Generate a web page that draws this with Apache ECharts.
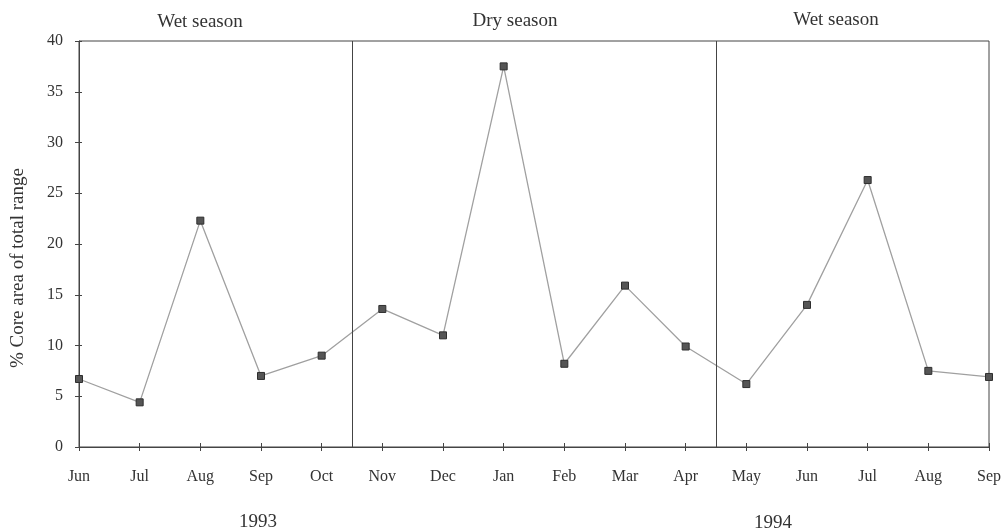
<!DOCTYPE html>
<html>
<head>
<meta charset="utf-8">
<script src="https://cdn.jsdelivr.net/npm/echarts@6/dist/echarts.min.js"></script>
<style>
  html, body { margin: 0; padding: 0; background: #fff; }
  #chart { width: 1006px; height: 532px; }
</style>
</head>
<body>
<div id="chart"></div>
<script>
// Monthly core area, June 1993 to September 1994
const months = ['Jun', 'Jul', 'Aug', 'Sep', 'Oct', 'Nov', 'Dec', 'Jan', 'Feb', 'Mar', 'Apr', 'May', 'Jun', 'Jul', 'Aug', 'Sep'];
const coreArea = [6.7, 4.4, 22.3, 7.0, 9.0, 13.6, 11.0, 37.5, 8.2, 15.9, 9.9, 6.2, 14.0, 26.3, 7.5, 6.9];
const yTicks = [0, 5, 10, 15, 20, 25, 30, 35, 40];
// Season boundaries, halfway between the last month of one season and the first of the next
const seasonBreaks = [4.5, 10.5];
const seasons = ['Wet season', 'Dry season', 'Wet season'];
const years = ['1993', '1994'];

const FONT = '"Liberation Serif", "DejaVu Serif", serif';
const TEXT = '#333';
const AXIS = '#444';

const chart = echarts.init(document.getElementById('chart'));

const xBase = {
  type: 'value', min: 0, max: months.length - 1, interval: 1,
  splitLine: { show: false }
};
const yBase = {
  type: 'value', min: yTicks[0], max: yTicks[yTicks.length - 1], interval: yTicks[1] - yTicks[0],
  splitLine: { show: false }
};

// Small text block centred on (x, y)
const txt = (x, y, s, size, rotation) => ({
  type: 'text', x, y, rotation: rotation || 0,
  style: { text: s, fill: TEXT, font: size + 'px ' + FONT, textAlign: 'center', textVerticalAlign: 'middle' }
});

chart.setOption({
  animation: false,
  backgroundColor: '#fff',
  grid: {
    left: 79, right: 17, top: 41, bottom: 85,
    show: true, borderColor: AXIS, borderWidth: 1, backgroundColor: 'transparent'
  },
  xAxis: [
    Object.assign({}, xBase, {
      axisLine: { lineStyle: { color: AXIS, width: 1 } },
      axisTick: { length: 4, lineStyle: { color: AXIS } },
      axisLabel: {
        margin: 22, color: TEXT, fontFamily: FONT, fontSize: 16,
        formatter: v => months[v] || ''
      }
    }),
    Object.assign({}, xBase, {
      position: 'bottom',
      axisLine: { show: false },
      axisTick: { inside: true, length: 4, lineStyle: { color: AXIS } },
      axisLabel: { show: false }
    })
  ],
  yAxis: [
    Object.assign({}, yBase, {
      axisLine: { show: true, lineStyle: { color: AXIS, width: 1 } },
      axisTick: { show: true, length: 4, lineStyle: { color: AXIS } },
      axisLabel: { margin: 16, color: TEXT, fontFamily: FONT, fontSize: 16 }
    }),
    Object.assign({}, yBase, {
      position: 'left',
      axisLine: { show: false },
      axisTick: { show: true, inside: true, length: 3, lineStyle: { color: AXIS } },
      axisLabel: { show: false }
    })
  ],
  series: [{
    type: 'line',
    data: coreArea.map((v, i) => [i, v]),
    symbol: 'rect',
    symbolSize: 7,
    lineStyle: { color: '#a0a0a0', width: 1.3 },
    itemStyle: { color: '#555', borderColor: '#2e2e2e', borderWidth: 1 },
    markLine: {
      silent: true,
      symbol: 'none',
      label: { show: false },
      lineStyle: { color: AXIS, type: 'solid', width: 1 },
      data: seasonBreaks.map(x => ({ xAxis: x }))
    }
  }],
  // Season headings, year captions and the y-axis title
  graphic: [
    txt(200, 22, seasons[0], 19),
    txt(515, 21, seasons[1], 19),
    txt(836, 20, seasons[2], 19),
    txt(258, 522, years[0], 19),
    txt(773, 523, years[1], 19),
    txt(18, 268, '% Core area of total range', 19, Math.PI / 2)
  ]
});
</script>
</body>
</html>
